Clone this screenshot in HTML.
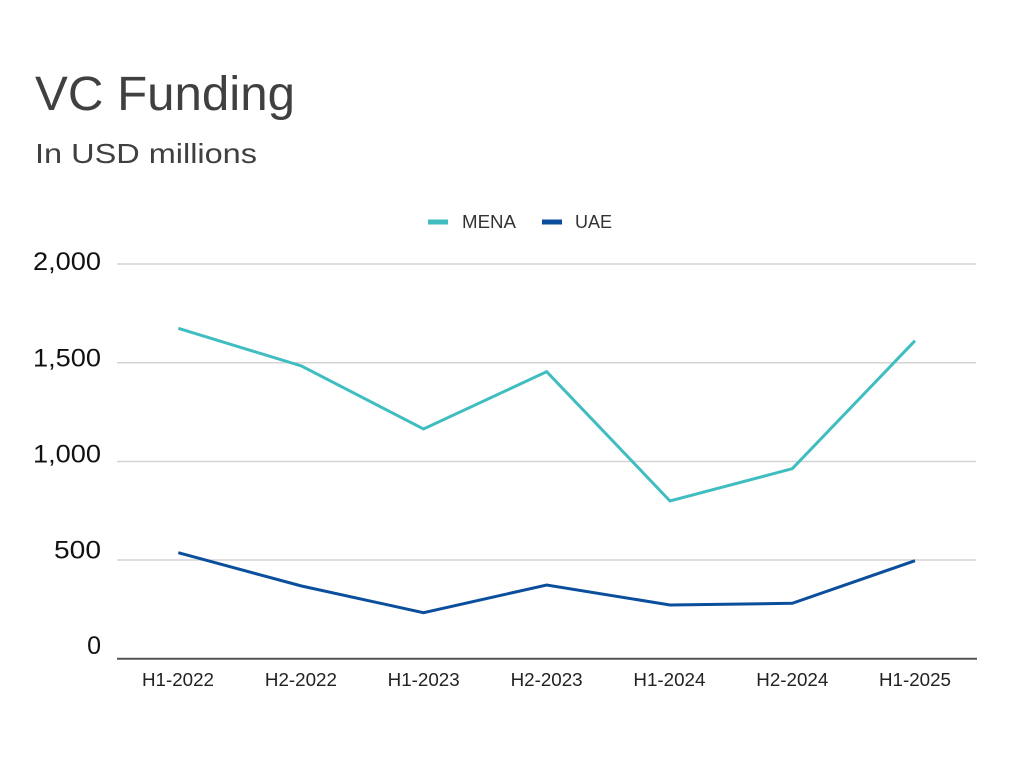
<!DOCTYPE html>
<html>
<head>
<meta charset="utf-8">
<style>
html,body{margin:0;padding:0;background:#fff;}
svg{display:block;}
text{font-family:"Liberation Sans",Arial,sans-serif;}
</style>
</head>
<body>
<svg width="1024" height="768" viewBox="0 0 1024 768" xmlns="http://www.w3.org/2000/svg">
<rect width="1024" height="768" fill="#ffffff"/>
<text x="35" y="110" font-size="48" fill="#404040" textLength="260" lengthAdjust="spacingAndGlyphs">VC Funding</text>
<text x="35" y="163" font-size="28" fill="#404040" textLength="222" lengthAdjust="spacingAndGlyphs">In USD millions</text>

<!-- legend -->
<rect x="428" y="219.5" width="20" height="5" fill="#3fbdc0"/>
<text x="462" y="228" font-size="18" fill="#333" textLength="54" lengthAdjust="spacingAndGlyphs">MENA</text>
<rect x="542" y="219.5" width="20" height="5" fill="#0b4f9c"/>
<text x="575" y="228" font-size="18" fill="#333" textLength="37" lengthAdjust="spacingAndGlyphs">UAE</text>

<!-- gridlines -->
<g stroke="#d4d4d4" stroke-width="1.5">
<line x1="117" y1="264" x2="976" y2="264"/>
<line x1="117" y1="362.7" x2="976" y2="362.7"/>
<line x1="117" y1="461.5" x2="976" y2="461.5"/>
<line x1="117" y1="560" x2="976" y2="560"/>
</g>
<line x1="117" y1="658.7" x2="977" y2="658.7" stroke="#555" stroke-width="2"/>

<!-- y labels -->
<g font-size="25" fill="#111" text-anchor="end">
<text x="101" y="270" textLength="68" lengthAdjust="spacingAndGlyphs">2,000</text>
<text x="101" y="366.5" textLength="68" lengthAdjust="spacingAndGlyphs">1,500</text>
<text x="101" y="462.5" textLength="68" lengthAdjust="spacingAndGlyphs">1,000</text>
<text x="101" y="558.3" textLength="47" lengthAdjust="spacingAndGlyphs">500</text>
<text x="101" y="654">0</text>
</g>

<!-- x labels -->
<g font-size="18" fill="#222" text-anchor="middle">
<text x="178" y="686" textLength="72" lengthAdjust="spacingAndGlyphs">H1-2022</text>
<text x="300.9" y="686" textLength="72" lengthAdjust="spacingAndGlyphs">H2-2022</text>
<text x="423.7" y="686" textLength="72" lengthAdjust="spacingAndGlyphs">H1-2023</text>
<text x="546.6" y="686" textLength="72" lengthAdjust="spacingAndGlyphs">H2-2023</text>
<text x="669.4" y="686" textLength="72" lengthAdjust="spacingAndGlyphs">H1-2024</text>
<text x="792.3" y="686" textLength="72" lengthAdjust="spacingAndGlyphs">H2-2024</text>
<text x="915" y="686" textLength="72" lengthAdjust="spacingAndGlyphs">H1-2025</text>
</g>

<!-- series -->
<polyline fill="none" stroke="#3fbdc0" stroke-width="3" stroke-linejoin="miter"
 points="178.3,328.3 301.5,366 423.5,429 546.7,371.7 670,501 792.3,468.7 915,340.7"/>
<polyline fill="none" stroke="#0b4f9c" stroke-width="3" stroke-linejoin="miter"
 points="178.3,552.7 301.5,586 423.5,612.7 546.7,585 670,605 792.3,603.3 915,560.7"/>
</svg>
</body>
</html>
